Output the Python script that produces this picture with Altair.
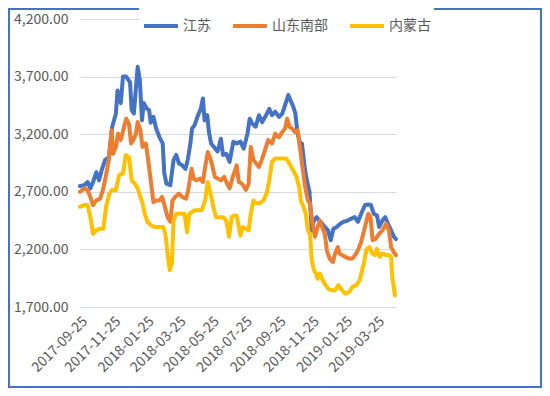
import altair as alt
import pandas as pd

start_date = "2017-09-25"
series_names = ["江苏", "山东南部", "内蒙古"]
series_colors = ["#4472C4", "#ED7D31", "#FFC000"]

# days since 2017-09-25 and prices
js_days = [0, 8, 14, 19, 24, 30, 35, 40, 46, 53, 59, 66, 69, 75, 79, 85, 92, 95, 99, 103,
           106, 110, 114, 117, 123, 127, 130, 135, 140, 146, 152, 155, 159, 166, 172, 177, 182, 188, 194, 198,
           203, 206, 211, 217, 222, 226, 229, 234, 237, 241, 246, 253, 259, 263, 269, 275, 282, 288, 295, 301,
           308, 312, 317, 323, 329, 335, 342, 348, 353, 359, 366, 372, 379, 383, 387, 392, 396, 400, 405, 408,
           413, 417, 422, 426, 430, 435, 440, 445, 450, 456, 461, 466, 472, 479, 485, 492, 498, 505, 511, 517,
           524, 530, 535, 540, 546, 550, 556, 561, 566, 572, 577, 581]
js_vals = [2750, 2757, 2785, 2730, 2785, 2870, 2800, 2890, 2975, 3000, 3260, 3380, 3580, 3470, 3700, 3700, 3650, 3410, 3380, 3610,
           3785, 3670, 3320, 3470, 3420, 3410, 3300, 3350, 3250, 3175, 3120, 2860, 2770, 2757, 2975, 3020, 2945, 2930, 2900, 2975,
           3120, 3250, 3280, 3365, 3420, 3510, 3320, 3365, 3220, 3120, 3090, 3050, 3160, 3020, 3030, 2960, 3135, 3120, 3135, 3075,
           3205, 3335, 3290, 3265, 3365, 3305, 3365, 3420, 3365, 3395, 3350, 3380, 3480, 3540, 3495, 3440, 3380, 3205, 3120, 3120,
           2915, 2800, 2700, 2365, 2450, 2480, 2450, 2425, 2395, 2365, 2280, 2380, 2395, 2425, 2440, 2450, 2465, 2480, 2440, 2510,
           2585, 2590, 2585, 2510, 2495, 2395, 2450, 2480, 2425, 2365, 2310, 2290]

sd_days = [0, 8, 14, 19, 24, 30, 37, 42, 46, 53, 58, 61, 66, 70, 75, 81, 85, 90, 94, 98,
           103, 106, 111, 115, 121, 125, 130, 135, 140, 146, 151, 156, 161, 166, 170, 175, 182, 188, 195, 199,
           205, 209, 214, 221, 226, 230, 235, 239, 243, 248, 253, 259, 265, 269, 275, 281, 285, 288, 292, 298,
           305, 310, 314, 319, 324, 329, 334, 340, 346, 353, 359, 366, 372, 377, 381, 385, 390, 395, 400, 405,
           409, 414, 419, 423, 427, 432, 437, 441, 445, 450, 454, 459, 465, 469, 474, 477, 482, 488, 495, 501,
           508, 512, 517, 524, 530, 534, 538, 543, 550, 556, 563, 568, 572, 577, 581]
sd_vals = [2700, 2730, 2715, 2655, 2585, 2625, 2640, 2715, 2800, 2975, 3235, 3030, 3090, 3205, 3150, 3265, 3335, 3290, 3120, 3150,
           3205, 3305, 3235, 3090, 3120, 2990, 2800, 2610, 2625, 2625, 2655, 2570, 2480, 2440, 2625, 2655, 2685, 2655, 2640, 2715,
           2900, 2815, 2800, 2815, 2785, 2915, 3045, 3000, 2930, 2830, 2815, 2800, 2830, 2785, 2730, 2830, 2885, 2930, 2785, 2770,
           2715, 2770, 3090, 2975, 2945, 2915, 2975, 3060, 3150, 3120, 3205, 3175, 3220, 3250, 3335, 3265, 3250, 3220, 3235, 3060,
           2915, 2740, 2625, 2600, 2440, 2310, 2395, 2450, 2395, 2335, 2190, 2120, 2090, 2165, 2220, 2165, 2150, 2135, 2120, 2120,
           2165, 2205, 2265, 2395, 2510, 2480, 2280, 2290, 2335, 2365, 2425, 2365, 2220, 2175, 2150]

nm_days = [0, 8, 14, 19, 24, 30, 37, 43, 48, 54, 59, 66, 72, 79, 84, 90, 95, 101, 106, 111,
           115, 119, 124, 130, 137, 143, 153, 157, 161, 165, 169, 172, 177, 185, 192, 197, 201, 206, 211, 217,
           224, 230, 235, 240, 245, 250, 256, 263, 269, 274, 279, 284, 288, 295, 299, 305, 310, 314, 319, 324,
           330, 337, 343, 348, 353, 359, 366, 372, 379, 385, 392, 398, 403, 406, 411, 415, 419, 423, 426, 430,
           434, 437, 441, 445, 450, 456, 463, 469, 475, 482, 488, 495, 501, 508, 514, 521, 527, 532, 537, 542,
           546, 551, 556, 563, 569, 572, 574, 577, 579]
nm_vals = [2570, 2585, 2585, 2480, 2335, 2365, 2380, 2380, 2570, 2685, 2715, 2715, 2845, 2860, 3020, 3000, 2800, 2770, 2730, 2655,
           2600, 2510, 2440, 2410, 2395, 2395, 2395, 2335, 2165, 2020, 2080, 2450, 2510, 2510, 2510, 2350, 2510, 2525, 2540, 2540,
           2540, 2625, 2785, 2685, 2570, 2480, 2480, 2480, 2450, 2310, 2480, 2495, 2495, 2320, 2395, 2380, 2365, 2510, 2625, 2600,
           2600, 2625, 2685, 2800, 2960, 2990, 2990, 2990, 2990, 2945, 2885, 2830, 2740, 2625, 2570, 2510, 2365, 2335, 2105, 2020,
           1990, 1945, 1990, 1945, 1900, 1860, 1845, 1845, 1890, 1845, 1815, 1830, 1875, 1890, 1930, 2060, 2205, 2220, 2165, 2150,
           2205, 2135, 2165, 2150, 2150, 2135, 1960, 1875, 1800]

y_ticks = [1700, 2200, 2700, 3200, 3700, 4200]
x_tick_labels = ["2017-09-25", "2017-11-25", "2018-01-25", "2018-03-25", "2018-05-25",
                 "2018-07-25", "2018-09-25", "2018-11-25", "2019-01-25", "2019-03-25"]
x_end = "2019-04-29"

frames = []
for name, days, vals in zip(series_names, [js_days, sd_days, nm_days], [js_vals, sd_vals, nm_vals]):
    d = pd.Timestamp(start_date) + pd.to_timedelta(days, unit="D")
    frames.append(pd.DataFrame({"date": d.strftime("%Y-%m-%dT00:00:00"), "price": vals, "series": name}))
df = pd.concat(frames, ignore_index=True)


def dt(s):
    y, m, dd = (int(p) for p in s.split("-"))
    return alt.DateTime(year=y, month=m, date=dd)


W, H = 316, 288
PL, PT, PR, PB = 72, 11, 146, 81
FONT = "Noto Sans CJK SC"

color = alt.Color("series:N",
                  scale=alt.Scale(domain=series_names, range=series_colors),
                  legend=alt.Legend(title=None, orient="none", legendX=59, legendY=-15,
                                    direction="horizontal", symbolType="stroke",
                                    symbolSize=1150, symbolStrokeWidth=4,
                                    labelFontSize=14, labelColor="#595959", labelFont=FONT,
                                    columnPadding=14, labelOffset=3,
                                    fillColor="white", padding=3))

x_enc = alt.X("date:T",
              scale=alt.Scale(domain=[dt(start_date), dt(x_end)]),
              axis=alt.Axis(title=None, values=[dt(s) for s in x_tick_labels], format="%Y-%m-%d",
                            labelAngle=-45, grid=False, domain=False, ticks=False,
                            labelFontSize=14, labelColor="#595959", labelFont=FONT,
                            labelPadding=7, labelOverlap=False, labelFlush=False))
y_enc = alt.Y("price:Q",
              scale=alt.Scale(domain=[1700, 4200], nice=False, zero=False),
              axis=alt.Axis(title=None, values=y_ticks, format=",.2f", grid=True,
                            gridColor="#D9D9D9", gridWidth=1, domain=False, ticks=False,
                            labelFontSize=14, labelColor="#595959", labelFont=FONT,
                            labelPadding=12))

layers = []
for name in series_names:
    layers.append(
        alt.Chart(df).transform_filter(alt.datum.series == name)
        .mark_line(strokeWidth=4, strokeJoin="round", strokeCap="round")
        .encode(x=x_enc, y=y_enc, color=color)
    )

border = alt.Chart(pd.DataFrame({"k": [0]})).mark_rect(
    fillOpacity=0, stroke="#4472C4", strokeWidth=2
).encode(x=alt.value(-PL + 1), x2=alt.value(W + PR - 1),
         y=alt.value(-PT + 1), y2=alt.value(H + PB - 1))

chart = alt.layer(*layers, border).properties(
    width=W, height=H,
    autosize=alt.AutoSizeParams(type="none"),
    padding={"left": PL, "top": PT, "right": PR, "bottom": PB},
    background="white",
).configure_view(stroke=None)

chart.save("out.html", embed_options={"renderer": "svg", "actions": False})
